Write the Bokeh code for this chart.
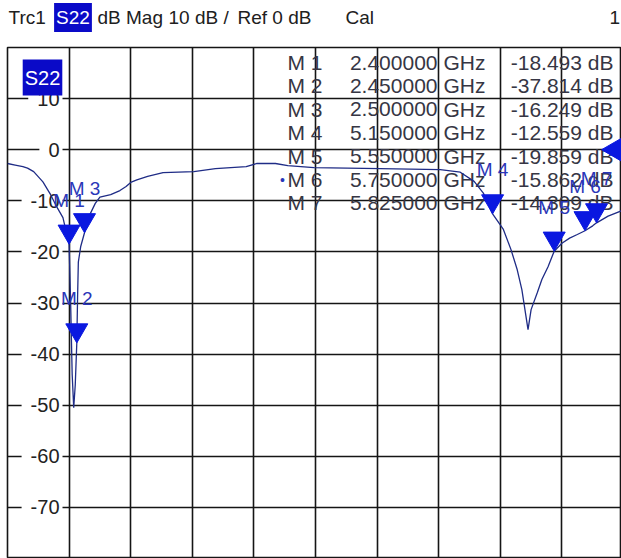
from math import pi
from bokeh.plotting import figure
from bokeh.models import Grid, FixedTicker, ColumnDataSource, Range1d
from bokeh.layouts import column
from bokeh.transform import dodge
from bokeh.core.properties import value
from bokeh.embed import file_html
from bokeh.resources import INLINE

# ---------------- data ----------------
freq_ghz = [2.00, 2.05, 2.10, 2.13, 2.17, 2.23, 2.28, 2.32, 2.36, 2.40, 2.41, 2.42, 2.43,
            2.44, 2.45, 2.455, 2.46, 2.475, 2.50, 2.53, 2.57, 2.60, 2.67, 2.73, 2.77, 2.80,
            2.84, 2.91, 3.01, 3.21, 3.35, 3.55, 3.62, 3.74, 3.82, 3.99, 4.42, 4.81, 4.94,
            5.03, 5.09, 5.15, 5.22, 5.27, 5.31, 5.34, 5.36, 5.38, 5.40, 5.44, 5.47, 5.51,
            5.55, 5.60, 5.65, 5.70, 5.75, 5.80, 5.825, 5.90, 6.00]
s22_db = [-2.7, -3.0, -3.3, -3.6, -4.3, -6.3, -8.8, -11.2, -13.3, -18.493, -30.0, -44.0, -50.5,
          -46.0, -37.814, -29.0, -22.0, -19.0, -16.249, -13.0, -10.5, -9.3, -8.8, -8.0, -7.2, -6.4,
          -5.9, -5.2, -4.5, -4.3, -3.7, -3.3, -2.7, -2.7, -3.1, -3.5, -3.7, -3.9, -4.4,
          -6.2, -8.5, -12.559, -15.6, -19.6, -23.5, -27.4, -31.3, -35.2, -31.3, -28.0, -25.4, -22.9,
          -19.859, -18.3, -17.3, -16.6, -15.862, -14.9, -14.309, -13.0, -11.8]

marker_names = ["M 1", "M 2", "M 3", "M 4", "M 5", "M 6", "M 7"]
marker_freq = [2.40, 2.45, 2.50, 5.15, 5.55, 5.75, 5.825]
marker_db = [-18.493, -37.814, -16.249, -12.559, -19.859, -15.862, -14.309]

freq_grid = [2.4, 2.8, 3.2, 3.6, 4.0, 4.4, 4.8, 5.2, 5.6]
db_ticks = [10, 0, -10, -20, -30, -40, -50, -60, -70]
db_tick_labels = ["10", "0", "-10", "-20", "-30", "-40", "-50", "-60", "-70"]

ref_level_db = [0]
stop_freq = [6.0]

header_texts = ["Trc1", "dB Mag", "10 dB /", "Ref 0 dB", "Cal", "1"]
trace_name = "S22"

# ---------------- style ----------------
FONT = "Liberation Sans"
GRID = "#151515"
TRACE = "#1f2c86"
MBLUE = "#0a18e0"
LBLUE = "#2a36b8"
BOX = "#0a0ac8"
TXT = "#363644"

# ---------------- header strip ----------------
# (its frame is aligned with the diagram frame by the column layout: x 7..621)
hdr = figure(width=621, height=46, x_range=Range1d(7, 621), y_range=Range1d(46, 0),
             x_axis_location=None, y_axis_location=None, toolbar_location=None,
             output_backend="svg", min_border=0, min_border_left=7)
hdr.center = []
hdr.outline_line_color = None
hdr.background_fill_color = "white"
hdr.border_fill_color = "white"
hx = [8, 97, 168, 237, 345, 609]
hdr.text(x=hx, y=[17] * len(hx), text=header_texts, text_baseline="middle", text_align="left",
         text_font=value(FONT), text_font_size="19px", text_color="#202020")
hdr.text(x=[72.5], y=[17], text=[trace_name], text_baseline="middle", text_align="center",
         text_font=value(FONT), text_font_size="19px", text_color="white",
         background_fill_color=BOX, padding=dict(left=2, right=2, top=4, bottom=4))

# ---------------- diagram ----------------
p = figure(width=621, height=512, x_range=Range1d(2.0, 5.987), y_range=Range1d(-80, 20),
           x_axis_location=None, y_axis_location=None, toolbar_location=None,
           output_backend="svg", min_border_left=7, min_border_right=0,
           min_border_top=1, min_border_bottom=0)
p.center = []
p.outline_line_color = GRID
p.outline_line_width = 1.6
p.background_fill_color = "white"
p.border_fill_color = "white"

p.add_layout(Grid(dimension=0, ticker=FixedTicker(ticks=freq_grid),
                  grid_line_color=GRID, grid_line_width=1.6))
p.add_layout(Grid(dimension=1, ticker=FixedTicker(ticks=db_ticks),
                  grid_line_color=GRID, grid_line_width=1.6))

# y tick labels inside the diagram, with white box interrupting grid
tsrc = ColumnDataSource(dict(y=db_ticks, text=db_tick_labels))
p.text(x=2.0, y="y", text="text", source=tsrc, x_offset=55, text_align="right",
       text_baseline="middle", text_font=value(FONT), text_font_size="20px",
       text_color="#222222", background_fill_color="white",
       padding=dict(left=9, right=3, top=0, bottom=0))

# trace label box inside diagram
p.text(x=2.0, y=20, text=[trace_name], x_offset=35, y_offset=30, text_align="center",
       text_baseline="middle", text_font=value(FONT), text_font_size="20px",
       text_color="white", background_fill_color=BOX,
       padding=dict(left=2, right=2, top=7, bottom=7))

# marker table
n = len(marker_names)
row_off = [15 + i * 23.4 for i in range(n)]
tab = ColumnDataSource(dict(
    name=marker_names,
    freq=[f"{f:.6f}" for f in marker_freq],
    unit=["GHz"] * n,
    val=[f"{v:.3f} dB" for v in marker_db],
    yo=row_off,
))
common = dict(source=tab, y_offset="yo", text_baseline="middle",
              text_font=value(FONT), text_font_size="21px", text_color=TXT)
p.text(x=2.0, y=20, text="name", x_offset=280, text_align="left", **common)
p.text(x=2.0, y=20, text="freq", x_offset=430, text_align="right", **common)
p.text(x=2.0, y=20, text="unit", x_offset=436, text_align="left", **common)
p.text(x=2.0, y=20, text="val", x_offset=606, text_align="right", **common)
p.text(x=2.0, y=20, text=["•"], x_offset=275, y_offset=row_off[5], text_align="center",
       text_baseline="middle", text_font=value(FONT), text_font_size="14px", text_color=LBLUE)

# trace
p.line(freq_ghz, s22_db, line_color=TRACE, line_width=1.3)

# markers
msrc = ColumnDataSource(dict(f=marker_freq, db=marker_db, name=marker_names))
p.scatter(x="f", y=dodge("db", 2.49, range=p.y_range), marker="inverted_triangle", size=22,
          fill_color=MBLUE, line_color=MBLUE, source=msrc)
p.text(x="f", y="db", text="name", source=msrc, y_offset=-44, text_align="center",
       text_baseline="middle", text_font=value(FONT), text_font_size="19px", text_color=LBLUE)

# reference level arrow
p.scatter(x=dodge("x", -0.052), y="y", source=ColumnDataSource(dict(x=stop_freq, y=ref_level_db)),
          marker="triangle", angle=pi / 2, size=24, fill_color=MBLUE, line_color=MBLUE)

open("out.html", "w").write(file_html(column(hdr, p, spacing=0), INLINE))
